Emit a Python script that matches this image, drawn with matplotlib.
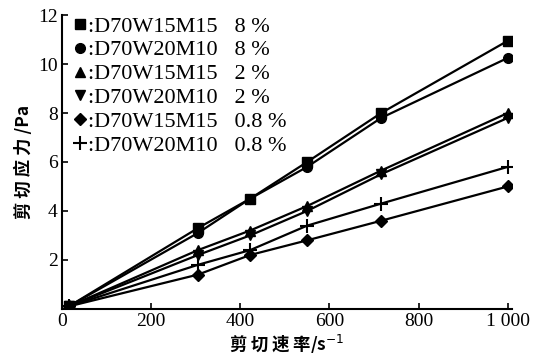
import matplotlib
matplotlib.use("Agg")
import matplotlib.pyplot as plt

shear_rate = [15, 305, 422, 550, 716, 1000]
s_w15m15_8 = [0.1, 3.3, 4.5, 6.0, 8.0, 10.95]
s_w20m10_8 = [0.1, 3.1, 4.5, 5.8, 7.8, 10.25]
s_w15m15_2 = [0.1, 2.4, 3.2, 4.2, 5.65, 8.0]
s_w20m10_2 = [0.1, 2.2, 3.0, 4.0, 5.5, 7.8]
s_w15m15_08 = [0.1, 1.4, 2.2, 2.8, 3.6, 5.0]
s_w20m10_08 = [0.1, 1.8, 2.4, 3.4, 4.3, 5.8]

labels = [":D70W15M15   8 %", ":D70W20M10   8 %", ":D70W15M15   2 %",
          ":D70W20M10   2 %", ":D70W15M15   0.8 %", ":D70W20M10   0.8 %"]
xticks = [0, 200, 400, 600, 800, 1000]
xticklabels = ["0", "200", "400", "600", "800", "1 000"]
yticks = [2, 4, 6, 8, 10, 12]

series = [s_w15m15_8, s_w20m10_8, s_w15m15_2, s_w20m10_2, s_w15m15_08, s_w20m10_08]
markers = ["s", "o", "^", "v", "D", "+"]
msizes = [7, 7, 7, 7, 6.5, 10]

serif = "Liberation Serif"
cjk = ["Noto Sans CJK SC", "DejaVu Sans"]

fig = plt.figure(figsize=(5.51, 3.60), dpi=100)
ax = fig.add_axes([0.1125, 0.142, 0.817, 0.816])

for ys, m, ms, lab in zip(series, markers, msizes, labels):
    ax.plot(shear_rate, ys, color="black", lw=1.6, marker=m, markersize=ms,
            markeredgewidth=1.5 if m == "+" else 1, label=lab)

ax.set_xlim(0, 1010)
ax.set_ylim(0, 12)
ax.spines["top"].set_visible(False)
ax.spines["right"].set_visible(False)
ax.spines["left"].set_linewidth(1.5)
ax.spines["bottom"].set_linewidth(1.5)
ax.set_xticks(xticks)
ax.set_xticklabels(xticklabels, fontfamily=serif, fontsize=14)
ax.set_yticks(yticks)
ax.set_yticklabels([str(v) for v in yticks], fontfamily=serif, fontsize=14)
ax.tick_params(direction="in", length=4, width=1.2, pad=3)

ax.set_xlabel("剪 切 速 率/s$^{-1}$", family=cjk, fontsize=12.5, labelpad=2,
              fontweight="bold")
ax.set_ylabel("剪 切 应 力 /Pa", family=cjk, fontsize=12.5, labelpad=4,
              fontweight="bold")

leg = ax.legend(loc="upper left", bbox_to_anchor=(0.0, 1.035), frameon=False,
                handlelength=0.6, handletextpad=0.05, labelspacing=0.15,
                borderpad=0, prop={"family": serif, "size": 16})
for h in leg.legend_handles:
    h.set_linestyle("none")

fig.savefig("out.png", dpi=100)
